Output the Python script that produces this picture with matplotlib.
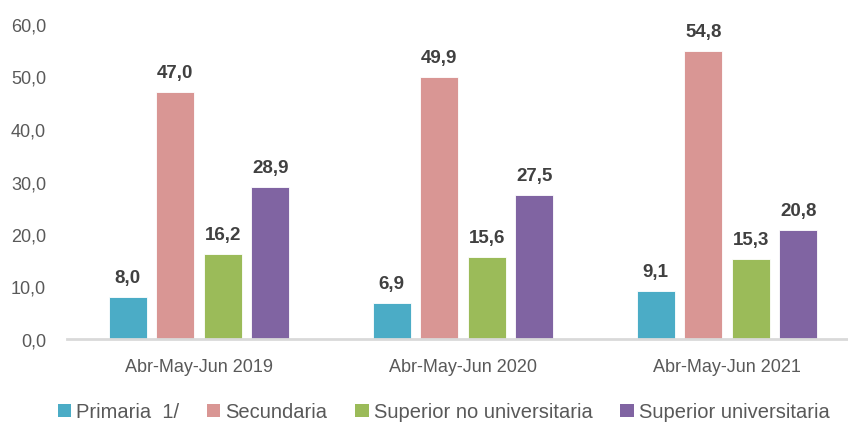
import matplotlib
matplotlib.use("Agg")
import matplotlib.pyplot as plt
from matplotlib import font_manager
import numpy as np

categories = ["Abr-May-Jun 2019", "Abr-May-Jun 2020", "Abr-May-Jun 2021"]
series_names = ["Primaria  1/", "Secundaria", "Superior no universitaria", "Superior universitaria"]
primaria = [8.0, 6.9, 9.1]
secundaria = [47.0, 49.9, 54.8]
sup_no_univ = [16.2, 15.6, 15.3]
sup_univ = [28.9, 27.5, 20.8]
yticks = [0, 10, 20, 30, 40, 50, 60]

colors = ["#4BACC6", "#D99694", "#9BBB59", "#8064A2"]

names = {f.name for f in font_manager.fontManager.ttflist}
fam = "Liberation Sans Narrow" if "Liberation Sans Narrow" in names else "Liberation Sans"
plt.rcParams["font.family"] = [fam, "DejaVu Sans"]

fig = plt.figure(figsize=(8.48, 4.27), dpi=100)
ax = fig.add_axes([67 / 848, (427 - 340) / 427, 1 - 67 / 848, (340 - 25) / 427])

x = np.arange(len(categories))
pitch = 0.18
width = 0.145
data = [primaria, secundaria, sup_no_univ, sup_univ]
for i, (vals, name, c) in enumerate(zip(data, series_names, colors)):
    pos = x + (i - 1.5) * pitch
    bars = ax.bar(pos, vals, width, color=c, label=name, edgecolor="white", linewidth=0.6)
    for b, v in zip(bars, vals):
        ax.annotate(f"{v:.1f}".replace(".", ","), (b.get_x() + b.get_width() / 2, v),
                    xytext=(0, 8), textcoords="offset points", ha="center", va="bottom",
                    fontsize=13.5, fontweight="bold", color="#404040")

ax.set_ylim(0, 60)
ax.set_xlim(-0.5, 2.5 - 11 / 264)
ax.set_yticks(yticks)
ax.set_yticklabels([f"{t:.1f}".replace(".", ",") for t in yticks])
ax.set_xticks(x)
ax.set_xticklabels(categories)
ax.tick_params(axis="y", length=0, pad=15, labelsize=13, labelcolor="#595959")
ax.tick_params(axis="x", length=0, pad=14, labelsize=13, labelcolor="#595959")
for s in ["top", "right", "left"]:
    ax.spines[s].set_visible(False)
ax.spines["bottom"].set_color("#D9D9D9")
ax.spines["bottom"].set_linewidth(2)

leg = fig.legend(loc="center", bbox_to_anchor=(0.523, 0.033), ncol=4, frameon=False,
                 fontsize=14.5, handlelength=0.65, handleheight=0.65, handletextpad=0.25,
                 columnspacing=1.4, labelcolor="#595959")
for h in leg.legend_handles:
    h.set_edgecolor("none")

fig.savefig("out.png", dpi=100)
